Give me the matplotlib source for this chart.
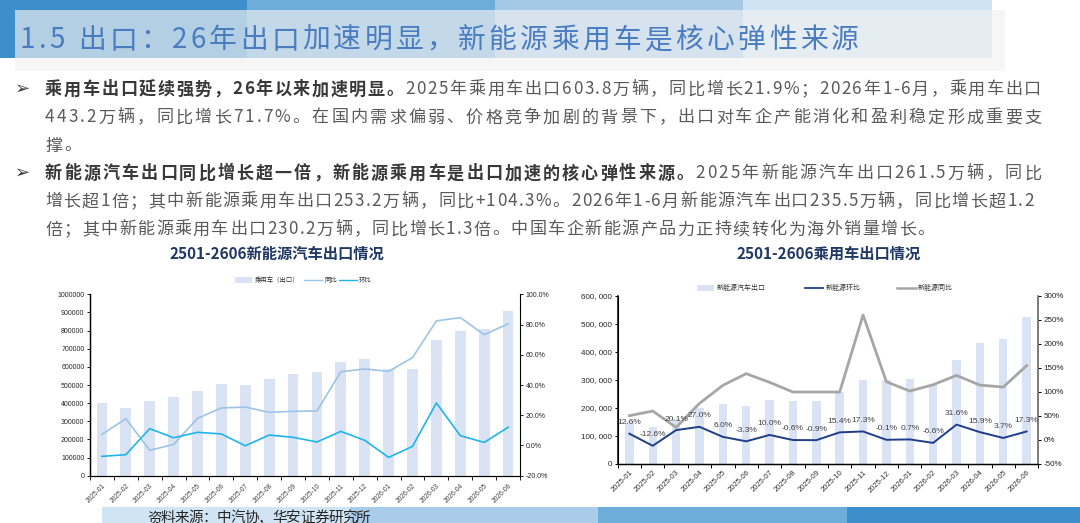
import matplotlib
matplotlib.use('Agg')
import matplotlib.pyplot as plt
import numpy as np
from matplotlib.patches import Rectangle
from matplotlib.lines import Line2D
from matplotlib.font_manager import FontProperties

plt.rcParams['font.family'] = ['Noto Sans CJK SC', 'DejaVu Sans']
plt.rcParams['axes.unicode_minus'] = False

# ---------------- data ----------------
months = ['2025-01', '2025-02', '2025-03', '2025-04', '2025-05', '2025-06',
          '2025-07', '2025-08', '2025-09', '2025-10', '2025-11', '2025-12',
          '2026-01', '2026-02', '2026-03', '2026-04', '2026-05', '2026-06']
pv_export = [400000, 375000, 412000, 436000, 467000, 506000, 500000, 533000, 561000,
             574000, 627000, 643000, 590000, 586000, 750000, 798000, 811000, 906000]
pv_yoy = [7.3, 17.7, -3.2, 0.7, 17.9, 24.8, 25.4, 21.9, 22.6,
          22.8, 48.8, 50.6, 49.0, 58.1, 82.4, 84.6, 73.3, 80.4]
pv_mom = [-7.2, -6.1, 11.1, 5.1, 8.7, 7.6, -0.2, 6.9, 5.4,
          2.3, 9.3, 3.4, -7.9, -0.6, 28.1, 6.5, 2.0, 12.0]
nev_export = [151000, 132000, 158500, 201000, 213000, 206000, 227000, 225000, 223000,
              257000, 301000, 300000, 302000, 283000, 372000, 431000, 447000, 524000]
nev_mom = [12.6, -12.6, 20.1, 27.0, 6.0, -3.3, 10.0, -0.6, -0.9,
           15.4, 17.3, -0.1, 0.7, -6.6, 31.6, 15.9, 3.7, 17.3]
nev_yoy = [50.2, 59.9, 25.8, 75.9, 113.5, 137.9, 119.8, 99.6, 99.6,
           99.6, 260.3, 121.0, 101.6, 114.8, 134.3, 114.0, 110.0, 154.5]

title_text = '1.5 出口：26年出口加速明显，新能源乘用车是核心弹性来源'
bullet1 = [
    [('乘用车出口延续强势，26年以来加速明显。', True),
     ('2025年乘用车出口603.8万辆，同比增长21.9%；2026年1-6月，乘用车出口', False)],
    [('443.2万辆，同比增长71.7%。在国内需求偏弱、价格竞争加剧的背景下，出口对车企产能消化和盈利稳定形成重要支', False)],
    [('撑。', False)],
]
bullet2 = [
    [('新能源汽车出口同比增长超一倍，新能源乘用车是出口加速的核心弹性来源。', True),
     ('2025年新能源汽车出口261.5万辆，同比', False)],
    [('增长超1倍；其中新能源乘用车出口253.2万辆，同比+104.3%。2026年1-6月新能源汽车出口235.5万辆，同比增长超1.2', False)],
    [('倍；其中新能源乘用车出口230.2万辆，同比增长1.3倍。中国车企新能源产品力正持续转化为海外销量增长。', False)],
]
chart1_title = '2501-2606新能源汽车出口情况'
chart2_title = '2501-2606乘用车出口情况'
chart1_legend = ['乘用车（出口）', '同比', '环比']
chart2_legend = ['新能源汽车出口', '新能源环比', '新能源同比']
source_text = '资料来源：中汽协，华安证券研究所'

# ---------------- figure ----------------
W, H = 1080, 523
fig = plt.figure(figsize=(W / 100, H / 100), dpi=100)
fig.patch.set_facecolor('white')
bg = fig.add_axes([0, 0, 1, 1])
bg.set_xlim(0, W)
bg.set_ylim(H, 0)
bg.axis('off')
renderer = fig.canvas.get_renderer()

CJK = 'Noto Sans CJK SC'


def rect(x0, y0, x1, y1, color, alpha=1.0, z=0):
    bg.add_patch(Rectangle((x0, y0), x1 - x0, y1 - y0, facecolor=color,
                           edgecolor='none', alpha=alpha, zorder=z))


# top strip
strip = [(0, 247, '#3d8fcb'), (247, 495, '#6dadd9'), (495, 743, '#a4c9e7'), (743, 992, '#cde2f2')]
for x0, x1, c in strip:
    rect(x0, 0, x1, 58, c)
rect(15, 10, 1005, 71, '#f2f2f2', alpha=0.65, z=1)

# footer bands
for x0, x1, c in [(102, 350, '#d0e4f4'), (350, 598, '#a8cce9'), (598, 847, '#6dadd9'), (847, 1080, '#3d8fcb')]:
    rect(x0, 507, x1, 523, c)

_adv_cache = {}


def adv(ch, prop):
    key = (ch, prop.get_size_in_points(), prop.get_weight())
    if key not in _adv_cache:
        w1, _, _ = renderer.get_text_width_height_descent('口' + ch + '口', prop, ismath=False)
        w0, _, _ = renderer.get_text_width_height_descent('口口', prop, ismath=False)
        _adv_cache[key] = w1 - w0
    return _adv_cache[key]


def draw_line(segments, x0, yc, x_end=None, extra=None, z=3):
    items = []
    for s, prop, color in segments:
        for ch in s:
            items.append((ch, prop, color, adv(ch, prop)))
    total = sum(it[3] for it in items[:-1])
    if extra is None:
        extra = 0.0
        if x_end is not None and len(items) > 1:
            extra = (x_end - x0 - total) / (len(items) - 1)
    x = x0
    for ch, prop, color, a in items:
        em = prop.get_size_in_points() * 100 / 72
        bg.text(x, yc + 0.38 * em, ch, fontproperties=prop, color=color,
                va='baseline', ha='left', zorder=z)
        x += a + extra
    return extra


# title
title_prop = FontProperties(family=CJK, size=20)
draw_line([(title_text, title_prop, '#4a7cc0')], 20, 37.5, x_end=858 - 27)

# body text
body_n = FontProperties(family=CJK, size=12.3)
body_b = FontProperties(family=CJK, size=12.3, weight='bold')
col_n, col_b = '#5a5a5a', '#383838'


def para(lines, y0):
    ex = 0
    for i, line in enumerate(lines):
        segs = [(s, body_b if b else body_n, col_b if b else col_n) for s, b in line]
        yc = y0 + i * 28
        if i < len(lines) - 1:
            ex = draw_line(segs, 45, yc, x_end=1040 - 16)
        else:
            draw_line(segs, 45, yc, extra=ex)
    bg.text(15, y0 + 1, '➢', fontsize=13, color='#404040', va='center', ha='left',
            family=['DejaVu Sans'], zorder=3)


para(bullet1, 88)
para(bullet2, 172)

# chart titles
ct_prop = FontProperties(family=CJK, size=11, weight='bold')
bg.text(277, 254, chart1_title, fontproperties=ct_prop, color='#1f3864', ha='center', va='center')
bg.text(829, 254, chart2_title, fontproperties=ct_prop, color='#1f3864', ha='center', va='center')

# source
src_prop = FontProperties(family=CJK, size=10.5)
draw_line([(source_text, src_prop, '#262626')], 147, 516.5, x_end=370 - 14)

# legends (drawn in pixel coordinates)
lg1 = FontProperties(family=CJK, size=4.6)
rect(235, 277, 252, 283, '#dae3f3', z=3)
bg.text(255, 280, chart1_legend[0], fontproperties=lg1, color='#333333', va='center', ha='left')
bg.add_line(Line2D([304, 322], [280, 280], color='#9dc3e6', lw=1.0))
bg.text(324, 280, chart1_legend[1], fontproperties=lg1, color='#333333', va='center', ha='left')
bg.add_line(Line2D([339, 357], [280, 280], color='#1fb4ee', lw=1.0))
bg.text(359, 280, chart1_legend[2], fontproperties=lg1, color='#333333', va='center', ha='left')

lg2 = FontProperties(family=CJK, size=5.0)
rect(697, 285, 714, 291, '#dae3f3', z=3)
bg.text(717, 288.3, chart2_legend[0], fontproperties=lg2, color='#333333', va='center', ha='left')
bg.add_line(Line2D([805, 823], [288.3, 288.3], color='#203d8a', lw=1.3))
bg.text(826, 288.3, chart2_legend[1], fontproperties=lg2, color='#333333', va='center', ha='left')
bg.add_line(Line2D([897, 916], [288.3, 288.3], color='#a6a6a6', lw=1.8))
bg.text(918, 288.3, chart2_legend[2], fontproperties=lg2, color='#333333', va='center', ha='left')


def px_axes(l, t, r, b):
    return fig.add_axes([l / W, 1 - b / H, (r - l) / W, (b - t) / H])


x = np.arange(len(months))
num_font = 'Liberation Sans'

# ---------------- left chart ----------------
ax1 = px_axes(90, 294.3, 520, 475.7)
ax1.set_facecolor('none')
ax1.bar(x, pv_export, width=0.45, color='#dae3f3', zorder=2)
ax1.set_xlim(-0.5, len(months) - 0.5)
ax1.set_ylim(0, 1000000)
ax1.set_yticks(np.arange(0, 1000001, 100000))
ax1.set_yticklabels([str(int(v)) for v in np.arange(0, 1000001, 100000)],
                    fontsize=5, family=num_font, color='#262626')
ax1.set_xticks(np.arange(-0.5, len(months), 1))
ax1.set_xticklabels([])
ax1.set_xticks(x, minor=True)
ax1.set_xticklabels(months, minor=True, rotation=45, ha='right', rotation_mode='anchor',
                    fontsize=4.8, family=num_font, color='#404040')
ax1.tick_params(axis='x', which='minor', length=0, pad=5)
ax1.tick_params(axis='x', which='major', length=3, width=0.6)
ax1.tick_params(axis='y', length=2.5, width=0.6, pad=1.5)
for s in ['top', 'right']:
    ax1.spines[s].set_visible(False)
ax1.spines['left'].set_linewidth(1.0)
ax1.spines['bottom'].set_linewidth(0.8)

ax1b = ax1.twinx()
ax1b.plot(x, pv_yoy, color='#9dc3e6', lw=1.2, zorder=3)
ax1b.plot(x, pv_mom, color='#1fb4ee', lw=1.2, zorder=3)
ax1b.set_ylim(-20, 100)
ax1b.set_yticks(np.arange(-20, 101, 20))
ax1b.set_yticklabels([f'{v:.1f}%' for v in np.arange(-20, 101, 20)],
                     fontsize=5, family=num_font, color='#262626')
ax1b.tick_params(axis='y', length=2, width=0.6, pad=2)
ax1b.spines['top'].set_visible(False)
ax1b.spines['right'].set_linewidth(0.8)

# ---------------- right chart ----------------
ax2 = px_axes(617.7, 296, 1038.3, 463.7)
ax2.set_facecolor('none')
ax2.bar(x, nev_export, width=0.36, color='#dae3f3', zorder=2)
ax2.set_xlim(-0.5, len(months) - 0.5)
ax2.set_ylim(0, 600000)
yt = np.arange(0, 600001, 100000)
ax2.set_yticks(yt)
ax2.set_yticklabels([f'{int(v):,}'.replace(',', ', ') for v in yt],
                    fontsize=5.8, family=num_font, color='#262626')
ax2.set_xticks(np.arange(-0.5, len(months), 1))
ax2.set_xticklabels([])
ax2.set_xticks(x, minor=True)
ax2.set_xticklabels(months, minor=True, rotation=45, ha='right', rotation_mode='anchor',
                    fontsize=5.5, family=num_font, color='#333333')
ax2.tick_params(axis='x', which='minor', length=0, pad=4)
ax2.tick_params(axis='x', which='major', length=3, width=0.7)
ax2.tick_params(axis='y', length=2.5, width=0.7, pad=1.5)
for s in ['top', 'right']:
    ax2.spines[s].set_visible(False)
ax2.spines['left'].set_linewidth(1.1)
ax2.spines['bottom'].set_linewidth(1.0)

ax2b = ax2.twinx()
ax2b.plot(x, nev_yoy, color='#a6a6a6', lw=2.0, zorder=3)
ax2b.plot(x, nev_mom, color='#203d8a', lw=1.4, zorder=4)
for xi, v in zip(x, nev_mom):
    ax2b.annotate(f'{v:.1f}%', (xi, v), xytext=(0, 8), textcoords='offset points',
                  ha='center', va='center', fontsize=6, family=num_font,
                  color='#404040', zorder=5)
ax2b.set_ylim(-50, 300)
yt2 = np.arange(-50, 301, 50)
ax2b.set_yticks(yt2)
ax2b.set_yticklabels([f'{int(v)}%' for v in yt2], fontsize=5.8, family=num_font, color='#262626')
ax2b.tick_params(axis='y', length=2.5, width=0.7, pad=1.5)
ax2b.spines['top'].set_visible(False)
ax2b.spines['right'].set_linewidth(1.1)
ax2b.spines['right'].set_color('#595959')

fig.savefig('out.png', dpi=100, facecolor='white')
